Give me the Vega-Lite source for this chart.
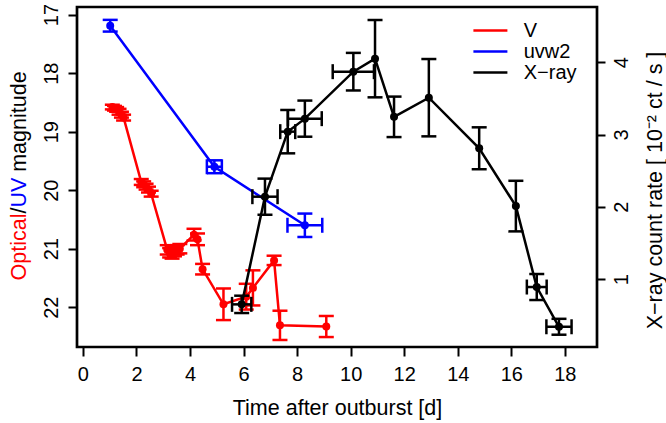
{
  "$schema": "https://vega.github.io/schema/vega-lite/v6.json",
  "width": 520,
  "height": 340,
  "autosize": {"type": "none"},
  "padding": {"left": 77, "top": 7, "right": 69, "bottom": 76},
  "background": "white",
  "data": {"values": [
    {"series": "V", "t": 1.10, "val": 18.58, "lo": 18.54, "hi": 18.62},
    {"series": "V", "t": 1.18, "val": 18.60, "lo": 18.56, "hi": 18.64},
    {"series": "V", "t": 1.26, "val": 18.62, "lo": 18.58, "hi": 18.66},
    {"series": "V", "t": 1.35, "val": 18.66, "lo": 18.61, "hi": 18.71},
    {"series": "V", "t": 1.44, "val": 18.71, "lo": 18.66, "hi": 18.76},
    {"series": "V", "t": 1.52, "val": 18.76, "lo": 18.71, "hi": 18.81},
    {"series": "V", "t": 2.18, "val": 19.86, "lo": 19.81, "hi": 19.91},
    {"series": "V", "t": 2.27, "val": 19.90, "lo": 19.85, "hi": 19.95},
    {"series": "V", "t": 2.36, "val": 19.94, "lo": 19.89, "hi": 19.99},
    {"series": "V", "t": 2.45, "val": 19.99, "lo": 19.94, "hi": 20.04},
    {"series": "V", "t": 2.55, "val": 20.06, "lo": 20.01, "hi": 20.11},
    {"series": "V", "t": 3.15, "val": 21.02, "lo": 20.94, "hi": 21.10},
    {"series": "V", "t": 3.24, "val": 21.07, "lo": 20.99, "hi": 21.15},
    {"series": "V", "t": 3.33, "val": 21.09, "lo": 21.01, "hi": 21.17},
    {"series": "V", "t": 3.42, "val": 21.05, "lo": 20.97, "hi": 21.13},
    {"series": "V", "t": 3.52, "val": 21.02, "lo": 20.94, "hi": 21.10},
    {"series": "V", "t": 3.62, "val": 21.00, "lo": 20.92, "hi": 21.08},
    {"series": "V", "t": 4.15, "val": 20.76, "lo": 20.66, "hi": 20.86},
    {"series": "V", "t": 4.28, "val": 20.84, "lo": 20.74, "hi": 20.94},
    {"series": "V", "t": 4.47, "val": 21.35, "lo": 21.26, "hi": 21.44},
    {"series": "V", "t": 5.25, "val": 21.95, "lo": 21.68, "hi": 22.22},
    {"series": "V", "t": 6.10, "val": 21.82, "lo": 21.60, "hi": 22.04},
    {"series": "V", "t": 6.35, "val": 21.67, "lo": 21.37, "hi": 21.97},
    {"series": "V", "t": 7.14, "val": 21.20, "lo": 21.12, "hi": 21.28},
    {"series": "V", "t": 7.36, "val": 22.31, "lo": 22.06, "hi": 22.56},
    {"series": "V", "t": 9.09, "val": 22.33, "lo": 22.15, "hi": 22.51},
    {"series": "uvw2", "t": 1.02, "val": 17.19, "lo": 17.09, "hi": 17.29},
    {"series": "uvw2", "t": 4.91, "val": 19.60, "lo": 19.49, "hi": 19.71, "tlo": 4.63, "thi": 5.19},
    {"series": "uvw2", "t": 8.29, "val": 20.60, "lo": 20.40, "hi": 20.80, "tlo": 7.64, "thi": 8.94},
    {"series": "X−ray", "t": 5.93, "val": 0.65, "lo": 0.53, "hi": 0.77, "tlo": 5.57, "thi": 6.29},
    {"series": "X−ray", "t": 6.80, "val": 2.14, "lo": 1.89, "hi": 2.39, "tlo": 6.33, "thi": 7.27},
    {"series": "X−ray", "t": 7.65, "val": 3.04, "lo": 2.74, "hi": 3.34, "tlo": 7.37, "thi": 7.93},
    {"series": "X−ray", "t": 8.29, "val": 3.22, "lo": 2.97, "hi": 3.47, "tlo": 7.66, "thi": 8.92},
    {"series": "X−ray", "t": 10.10, "val": 3.87, "lo": 3.61, "hi": 4.13, "tlo": 9.33, "thi": 10.87},
    {"series": "X−ray", "t": 10.91, "val": 4.05, "lo": 3.515, "hi": 4.585},
    {"series": "X−ray", "t": 11.62, "val": 3.245, "lo": 2.965, "hi": 3.525},
    {"series": "X−ray", "t": 12.92, "val": 3.51, "lo": 2.975, "hi": 4.045},
    {"series": "X−ray", "t": 14.80, "val": 2.81, "lo": 2.52, "hi": 3.10},
    {"series": "X−ray", "t": 16.17, "val": 2.01, "lo": 1.66, "hi": 2.36},
    {"series": "X−ray", "t": 16.95, "val": 0.89, "lo": 0.71, "hi": 1.07, "tlo": 16.58, "thi": 17.32},
    {"series": "X−ray", "t": 17.78, "val": 0.34, "lo": 0.23, "hi": 0.45, "tlo": 17.31, "thi": 18.25}
  ]},
  "encoding": {
    "x": {"field": "t", "type": "quantitative", "title": "Time after outburst [d]",
      "scale": {"domain": [-0.22, 19.2], "nice": false, "zero": false},
      "axis": {"values": [0, 2, 4, 6, 8, 10, 12, 14, 16, 18], "titleY": 67, "titleBaseline": "alphabetic"}},
    "color": {"field": "series", "type": "nominal",
      "scale": {"domain": ["V", "uvw2", "X−ray"], "range": ["#ff0000", "#0000ff", "#000000"]},
      "legend": {"title": null, "orient": "none", "legendX": 403.4, "legendY": 13.5, "symbolType": "M-2,0H2", "symbolSize": 289, "symbolStrokeWidth": 2.5, "labelFontSize": 20, "labelFont": "Liberation Sans", "labelColor": "#000000", "labelOffset": 23.3, "rowPadding": 1, "padding": 0, "symbolOpacity": 1}}
  },
  "layer": [
    {"transform": [{"filter": {"field": "series", "oneOf": ["V", "uvw2"]}}],
     "mark": {"type": "line", "strokeWidth": 2.5},
     "encoding": {"y": {"field": "val", "type": "quantitative",
       "scale": {"domain": [16.87, 22.68], "reverse": true, "nice": false, "zero": false},
       "axis": {"orient": "left", "values": [17, 18, 19, 20, 21, 22], "labelAngle": 270, "labelAlign": "center", "labelBaseline": "alphabetic", "labelPadding": 11, "title": "Optical", "titleColor": "#ff0000", "titleAngle": 270, "titleAlign": "left", "titleBaseline": "alphabetic", "titleX": -52, "titleY": 273}}}},
    {"transform": [{"filter": {"field": "series", "oneOf": ["V", "uvw2"]}}],
     "mark": {"type": "rule", "strokeWidth": 2.5},
     "encoding": {"y": {"field": "lo", "type": "quantitative",
       "scale": {"domain": [16.87, 22.68], "reverse": true, "nice": false, "zero": false},
       "axis": {"orient": "left", "labels": false, "ticks": false, "title": "/", "titleAngle": 270, "titleAlign": "left", "titleBaseline": "alphabetic", "titleX": -52, "titleY": 206.1}},
       "y2": {"field": "hi"}}},
    {"transform": [{"filter": {"field": "series", "oneOf": ["V", "uvw2"]}}],
     "mark": {"type": "tick", "orient": "horizontal", "size": 15, "thickness": 2.5, "opacity": 1},
     "encoding": {"y": {"field": "lo", "type": "quantitative",
       "scale": {"domain": [16.87, 22.68], "reverse": true, "nice": false, "zero": false},
       "axis": {"orient": "left", "labels": false, "ticks": false, "title": "UV", "titleColor": "#0000ff", "titleAngle": 270, "titleAlign": "left", "titleBaseline": "alphabetic", "titleX": -52, "titleY": 200.1}}}},
    {"transform": [{"filter": {"field": "series", "oneOf": ["V", "uvw2"]}}],
     "mark": {"type": "tick", "orient": "horizontal", "size": 15, "thickness": 2.5, "opacity": 1},
     "encoding": {"y": {"field": "hi", "type": "quantitative",
       "scale": {"domain": [16.87, 22.68], "reverse": true, "nice": false, "zero": false},
       "axis": {"orient": "left", "labels": false, "ticks": false, "title": "magnitude", "titleAngle": 270, "titleAlign": "left", "titleBaseline": "alphabetic", "titleX": -52, "titleY": 164.3}}}},
    {"transform": [{"filter": {"field": "series", "oneOf": ["V", "uvw2"]}}, {"filter": {"field": "tlo", "valid": true}}],
     "mark": {"type": "rule", "strokeWidth": 2.5},
     "encoding": {
       "x": {"field": "tlo", "type": "quantitative", "title": "Time after outburst [d]",
         "scale": {"domain": [-0.22, 19.2], "nice": false, "zero": false},
         "axis": {"values": [0, 2, 4, 6, 8, 10, 12, 14, 16, 18], "titleY": 67, "titleBaseline": "alphabetic"}},
       "x2": {"field": "thi"},
       "y": {"field": "val", "type": "quantitative", "scale": {"domain": [16.87, 22.68], "reverse": true, "nice": false, "zero": false}, "axis": null}}},
    {"transform": [{"filter": {"field": "series", "oneOf": ["V", "uvw2"]}}, {"filter": {"field": "tlo", "valid": true}}],
     "mark": {"type": "tick", "orient": "vertical", "size": 15, "thickness": 2.5, "opacity": 1},
     "encoding": {
       "x": {"field": "tlo", "type": "quantitative", "title": "Time after outburst [d]",
         "scale": {"domain": [-0.22, 19.2], "nice": false, "zero": false},
         "axis": {"values": [0, 2, 4, 6, 8, 10, 12, 14, 16, 18], "titleY": 67, "titleBaseline": "alphabetic"}},
       "y": {"field": "val", "type": "quantitative", "scale": {"domain": [16.87, 22.68], "reverse": true, "nice": false, "zero": false}, "axis": null}}},
    {"transform": [{"filter": {"field": "series", "oneOf": ["V", "uvw2"]}}, {"filter": {"field": "tlo", "valid": true}}],
     "mark": {"type": "tick", "orient": "vertical", "size": 15, "thickness": 2.5, "opacity": 1},
     "encoding": {
       "x": {"field": "thi", "type": "quantitative", "title": "Time after outburst [d]",
         "scale": {"domain": [-0.22, 19.2], "nice": false, "zero": false},
         "axis": {"values": [0, 2, 4, 6, 8, 10, 12, 14, 16, 18], "titleY": 67, "titleBaseline": "alphabetic"}},
       "y": {"field": "val", "type": "quantitative", "scale": {"domain": [16.87, 22.68], "reverse": true, "nice": false, "zero": false}, "axis": null}}},
    {"transform": [{"filter": {"field": "series", "oneOf": ["V", "uvw2"]}}],
     "mark": {"type": "circle", "size": 64, "opacity": 1},
     "encoding": {"y": {"field": "val", "type": "quantitative", "scale": {"domain": [16.87, 22.68], "reverse": true, "nice": false, "zero": false}, "axis": null}}},

    {"transform": [{"filter": {"field": "series", "oneOf": ["X−ray"]}}],
     "mark": {"type": "line", "strokeWidth": 2.5},
     "encoding": {"y": {"field": "val", "type": "quantitative",
       "scale": {"domain": [0.06, 4.765], "nice": false, "zero": false},
       "axis": {"orient": "right", "values": [1, 2, 3, 4], "tickSize": 8, "labelAngle": 270, "labelAlign": "center", "labelBaseline": "alphabetic", "labelPadding": 22, "title": "X−ray count rate [ 10⁻² ct / s ]", "titleAngle": 270, "titleAlign": "center", "titleBaseline": "alphabetic", "titleX": 64, "titleY": 183}}}},
    {"transform": [{"filter": {"field": "series", "oneOf": ["X−ray"]}}],
     "mark": {"type": "rule", "strokeWidth": 2.5},
     "encoding": {"y": {"field": "lo", "type": "quantitative", "scale": {"domain": [0.06, 4.765], "nice": false, "zero": false}, "axis": null},
       "y2": {"field": "hi"}}},
    {"transform": [{"filter": {"field": "series", "oneOf": ["X−ray"]}}],
     "mark": {"type": "tick", "orient": "horizontal", "size": 15, "thickness": 2.5, "opacity": 1},
     "encoding": {"y": {"field": "lo", "type": "quantitative", "scale": {"domain": [0.06, 4.765], "nice": false, "zero": false}, "axis": null}}},
    {"transform": [{"filter": {"field": "series", "oneOf": ["X−ray"]}}],
     "mark": {"type": "tick", "orient": "horizontal", "size": 15, "thickness": 2.5, "opacity": 1},
     "encoding": {"y": {"field": "hi", "type": "quantitative", "scale": {"domain": [0.06, 4.765], "nice": false, "zero": false}, "axis": null}}},
    {"transform": [{"filter": {"field": "series", "oneOf": ["X−ray"]}}, {"filter": {"field": "tlo", "valid": true}}],
     "mark": {"type": "rule", "strokeWidth": 2.5},
     "encoding": {
       "x": {"field": "tlo", "type": "quantitative", "title": "Time after outburst [d]",
         "scale": {"domain": [-0.22, 19.2], "nice": false, "zero": false},
         "axis": {"values": [0, 2, 4, 6, 8, 10, 12, 14, 16, 18], "titleY": 67, "titleBaseline": "alphabetic"}},
       "x2": {"field": "thi"},
       "y": {"field": "val", "type": "quantitative", "scale": {"domain": [0.06, 4.765], "nice": false, "zero": false}, "axis": null}}},
    {"transform": [{"filter": {"field": "series", "oneOf": ["X−ray"]}}, {"filter": {"field": "tlo", "valid": true}}],
     "mark": {"type": "tick", "orient": "vertical", "size": 15, "thickness": 2.5, "opacity": 1},
     "encoding": {
       "x": {"field": "tlo", "type": "quantitative", "title": "Time after outburst [d]",
         "scale": {"domain": [-0.22, 19.2], "nice": false, "zero": false},
         "axis": {"values": [0, 2, 4, 6, 8, 10, 12, 14, 16, 18], "titleY": 67, "titleBaseline": "alphabetic"}},
       "y": {"field": "val", "type": "quantitative", "scale": {"domain": [0.06, 4.765], "nice": false, "zero": false}, "axis": null}}},
    {"transform": [{"filter": {"field": "series", "oneOf": ["X−ray"]}}, {"filter": {"field": "tlo", "valid": true}}],
     "mark": {"type": "tick", "orient": "vertical", "size": 15, "thickness": 2.5, "opacity": 1},
     "encoding": {
       "x": {"field": "thi", "type": "quantitative", "title": "Time after outburst [d]",
         "scale": {"domain": [-0.22, 19.2], "nice": false, "zero": false},
         "axis": {"values": [0, 2, 4, 6, 8, 10, 12, 14, 16, 18], "titleY": 67, "titleBaseline": "alphabetic"}},
       "y": {"field": "val", "type": "quantitative", "scale": {"domain": [0.06, 4.765], "nice": false, "zero": false}, "axis": null}}},
    {"transform": [{"filter": {"field": "series", "oneOf": ["X−ray"]}}],
     "mark": {"type": "circle", "size": 64, "opacity": 1},
     "encoding": {"y": {"field": "val", "type": "quantitative", "scale": {"domain": [0.06, 4.765], "nice": false, "zero": false}, "axis": null}}}
  ],
  "resolve": {"scale": {"y": "independent"}, "axis": {"y": "independent"}},
  "config": {
    "view": {"stroke": "#000000", "strokeWidth": 2.7},
    "font": "Liberation Sans",
    "axis": {"grid": false, "domain": false, "tickColor": "#000000", "tickWidth": 2, "tickSize": 9,
      "labelColor": "#000000", "titleColor": "#000000", "labelFont": "Liberation Sans", "titleFont": "Liberation Sans",
      "labelFontSize": 20, "titleFontSize": 21.5, "titleFontWeight": "normal", "labelOverlap": false, "labelFlush": false},
    "axisX": {"labelPadding": 8}
  }
}
